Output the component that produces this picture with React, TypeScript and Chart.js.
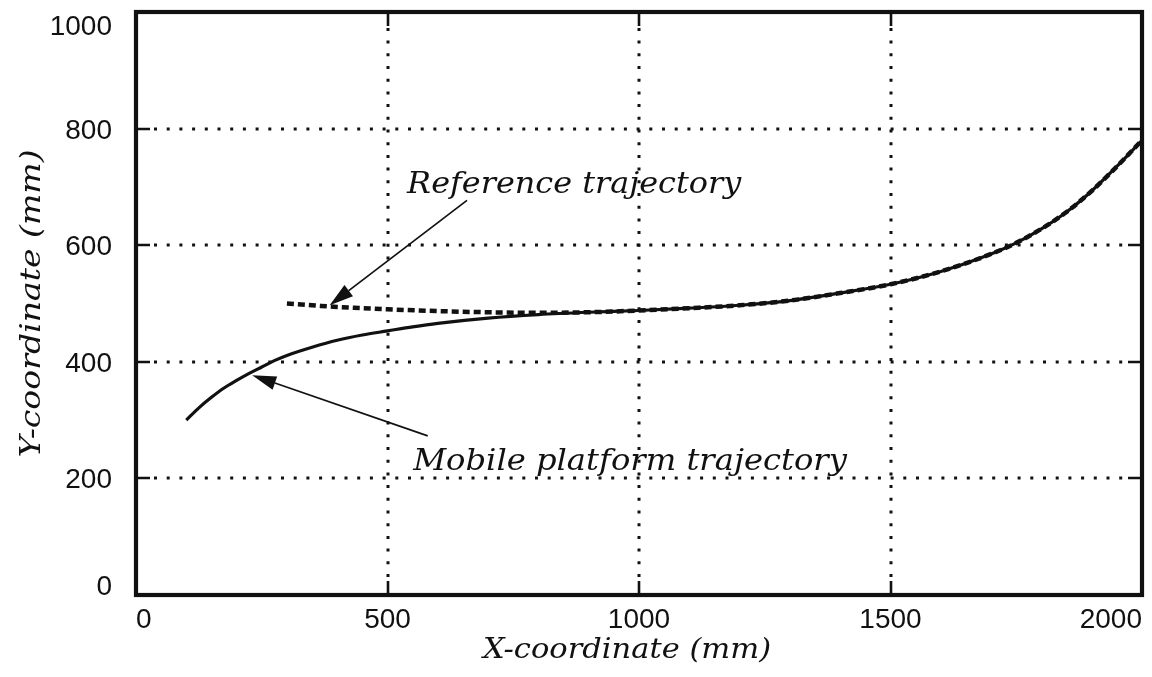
import React, { useEffect, useRef } from "react";
import { Chart, registerables } from "chart.js";

Chart.register(...registerables);

// Trajectory samples (mm)
const mobileX = [100, 125, 150, 175, 200, 225, 250, 275, 300, 350, 400, 450, 500, 550, 600, 700, 800, 900, 1000, 1100, 1200, 1300, 1400, 1500, 1600, 1700, 1750, 1800, 1850, 1900, 1950, 2000];
const mobileY = [300, 321, 339, 355, 368, 380, 391, 402, 411, 425, 437, 446, 453, 460, 466, 475, 481, 485, 488, 492, 497, 505, 518, 533, 555, 585, 604, 628, 657, 693, 735, 780];

const refX = [300, 350, 400, 450, 500, 600, 700, 800, 900, 1000, 1100, 1200, 1300, 1400, 1500, 1600, 1700, 1750, 1800, 1850, 1900, 1950, 2000];
const refY = [500, 497, 494, 492, 490, 487, 485, 484, 485, 488, 492, 497, 505, 518, 533, 555, 585, 604, 628, 657, 693, 735, 780];

const xTicks = [0, 500, 1000, 1500, 2000];
const yTicks = [0, 200, 400, 600, 800, 1000];

const xTitle = "X-coordinate (mm)";
const yTitle = "Y-coordinate (mm)";
const refLabel = "Reference trajectory";
const mobileLabel = "Mobile platform trajectory";

// Callout anchors in data units: text start (x, baseline y), arrow tail, arrow tip
const refNote = { text: [539, 689], tail: [658, 677], tip: [385, 497] };
const mobileNote = { text: [551, 214], tail: [580, 273], tip: [231, 377] };

const INK = "#111";
const SANS = '"Liberation Sans", Arial, sans-serif';
const SERIF = '"DejaVu Serif", serif';

// Italic serif text, slightly widened horizontally
function wideText(
  ctx: CanvasRenderingContext2D,
  text: string,
  x: number,
  y: number,
  size: number,
  stretch: number,
  align: CanvasTextAlign = "left"
) {
  ctx.save();
  ctx.font = `italic ${size}px ${SERIF}`;
  ctx.textAlign = align;
  ctx.textBaseline = "alphabetic";
  ctx.translate(x, y);
  ctx.scale(stretch, 1);
  ctx.fillText(text, 0, 0);
  ctx.restore();
}

function drawArrow(ctx: CanvasRenderingContext2D, x1: number, y1: number, x2: number, y2: number) {
  const ang = Math.atan2(y2 - y1, x2 - x1);
  const L = 24;
  const W = 7;
  const bx = x2 - L * Math.cos(ang);
  const by = y2 - L * Math.sin(ang);
  ctx.lineWidth = 1.7;
  ctx.setLineDash([]);
  ctx.beginPath();
  ctx.moveTo(x1, y1);
  ctx.lineTo(bx, by);
  ctx.stroke();
  ctx.beginPath();
  ctx.moveTo(x2, y2);
  ctx.lineTo(bx + W * Math.sin(ang), by - W * Math.cos(ang));
  ctx.lineTo(bx - W * Math.sin(ang), by + W * Math.cos(ang));
  ctx.closePath();
  ctx.fill();
}

const frameAndGrid = {
  id: "frameAndGrid",
  beforeDatasetsDraw(chart: any) {
    const { ctx, chartArea: a, scales } = chart;
    const x = scales.x;
    const y = scales.y;
    ctx.save();
    ctx.strokeStyle = INK;
    ctx.lineWidth = 3;
    ctx.setLineDash([3, 9.7]);
    for (const v of xTicks) {
      if (v <= x.min || v >= x.max) continue;
      const px = Math.round(x.getPixelForValue(v));
      ctx.beginPath();
      ctx.moveTo(px, a.bottom - 18);
      ctx.lineTo(px, a.top + 14);
      ctx.stroke();
    }
    for (const v of yTicks) {
      if (v <= y.min || v >= y.max) continue;
      const py = Math.round(y.getPixelForValue(v));
      ctx.beginPath();
      ctx.moveTo(a.left + 18, py);
      ctx.lineTo(a.right - 14, py);
      ctx.stroke();
    }
    ctx.restore();
  },
  afterDraw(chart: any) {
    const { ctx, chartArea: a, scales } = chart;
    const x = scales.x;
    const y = scales.y;
    ctx.save();
    ctx.strokeStyle = INK;
    ctx.fillStyle = INK;
    ctx.setLineDash([]);

    // inward tick marks
    const tl = 14;
    ctx.lineWidth = 2.6;
    for (const v of xTicks) {
      if (v <= x.min || v >= x.max) continue;
      const px = Math.round(x.getPixelForValue(v));
      ctx.beginPath();
      ctx.moveTo(px, a.bottom);
      ctx.lineTo(px, a.bottom - tl);
      ctx.moveTo(px, a.top);
      ctx.lineTo(px, a.top + tl);
      ctx.stroke();
    }
    for (const v of yTicks) {
      if (v <= y.min || v >= y.max) continue;
      const py = Math.round(y.getPixelForValue(v));
      ctx.beginPath();
      ctx.moveTo(a.left, py);
      ctx.lineTo(a.left + tl, py);
      ctx.moveTo(a.right, py);
      ctx.lineTo(a.right - tl, py);
      ctx.stroke();
    }

    // axes box
    ctx.lineWidth = 4.2;
    ctx.strokeRect(a.left, a.top, a.right - a.left, a.bottom - a.top);

    // y tick labels (end labels kept inside the box height)
    ctx.font = `28px ${SANS}`;
    ctx.textAlign = "right";
    ctx.textBaseline = "alphabetic";
    const cap = 20;
    for (const t of y.ticks) {
      let c = y.getPixelForValue(t.value);
      if (t.value === y.max) c = a.top + cap / 2 + 3;
      if (t.value === y.min) c = a.bottom - cap / 2;
      ctx.fillText(String(t.value), a.left - 24, c + cap / 2);
    }

    // axis titles
    wideText(ctx, xTitle, (a.left + a.right) / 2 - 12, a.bottom + 63, 27, 1.13, "center");
    ctx.save();
    ctx.translate(a.left - 96, (a.top + a.bottom) / 2);
    ctx.rotate(-Math.PI / 2);
    wideText(ctx, yTitle, 0, 0, 28.5, 1.16, "center");
    ctx.restore();

    // callouts
    wideText(ctx, refLabel, x.getPixelForValue(refNote.text[0]), y.getPixelForValue(refNote.text[1]), 29, 1.1);
    wideText(ctx, mobileLabel, x.getPixelForValue(mobileNote.text[0]), y.getPixelForValue(mobileNote.text[1]), 29, 1.11);
    for (const n of [refNote, mobileNote]) {
      drawArrow(
        ctx,
        x.getPixelForValue(n.tail[0]),
        y.getPixelForValue(n.tail[1]),
        x.getPixelForValue(n.tip[0]),
        y.getPixelForValue(n.tip[1])
      );
    }
    ctx.restore();
  },
};

export default function App() {
  const canvasRef = useRef<HTMLCanvasElement>(null);

  useEffect(() => {
    const chart = new Chart(canvasRef.current as HTMLCanvasElement, {
      type: "line",
      data: {
        datasets: [
          {
            label: refLabel,
            data: refX.map((v, i) => ({ x: v, y: refY[i] })),
            borderColor: INK,
            borderWidth: 4.5,
            borderDash: [7, 4],
            pointRadius: 0,
            fill: false,
            cubicInterpolationMode: "monotone",
          },
          {
            label: mobileLabel,
            data: mobileX.map((v, i) => ({ x: v, y: mobileY[i] })),
            borderColor: INK,
            borderWidth: 3.2,
            pointRadius: 0,
            fill: false,
            cubicInterpolationMode: "monotone",
          },
        ],
      },
      options: {
        animation: false,
        responsive: true,
        maintainAspectRatio: false,
        layout: { padding: { top: 12, right: 10, left: 0, bottom: 0 } },
        plugins: { legend: { display: false }, tooltip: { enabled: false } },
        scales: {
          x: {
            type: "linear",
            min: 0,
            max: 2000,
            afterBuildTicks: (s: any) => {
              s.ticks = xTicks.map((v) => ({ value: v }));
            },
            afterFit: (s: any) => {
              s.height = 82;
            },
            grid: { display: false, drawTicks: false },
            border: { display: false },
            ticks: {
              font: { family: SANS, size: 28 },
              color: INK,
              align: "inner",
              padding: 8,
              maxRotation: 0,
              autoSkip: false,
              callback: (v: any) => String(v),
            },
            title: { display: false },
          },
          y: {
            type: "linear",
            min: 0,
            max: 1000,
            afterBuildTicks: (s: any) => {
              s.ticks = yTicks.map((v) => ({ value: v }));
            },
            afterFit: (s: any) => {
              s.width = 136;
            },
            grid: { display: false, drawTicks: false },
            border: { display: false },
            ticks: { display: false },
            title: { display: false },
          },
        },
      } as any,
      plugins: [frameAndGrid],
    });
    return () => chart.destroy();
  }, []);

  return (
    <div style={{ position: "fixed", left: 0, top: 0, width: 1152, height: 677, background: "#fff" }}>
      <canvas ref={canvasRef} />
    </div>
  );
}
